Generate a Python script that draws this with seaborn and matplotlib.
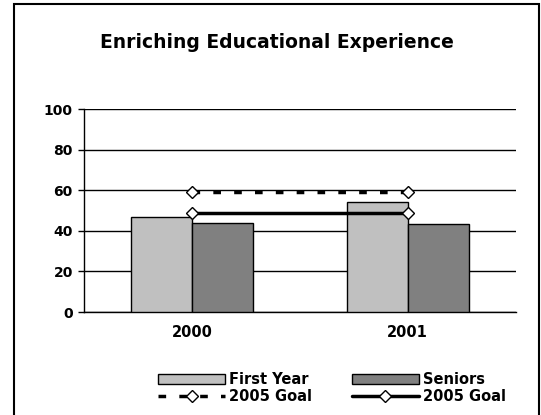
"""
Enriching Educational Experience: First Year vs Seniors with 2005 goals.
"""

import matplotlib
matplotlib.use("Agg")
import matplotlib.pyplot as plt
import pandas as pd
import seaborn as sns
from matplotlib.lines import Line2D
from matplotlib.patches import Patch, Rectangle

YEARS = ["2000", "2001"]
FIRST_YEAR = [47, 54]
SENIORS = [44, 43.5]
GOAL_FIRST_YEAR = [59, 59]
GOAL_SENIORS = [49, 49]

GROUPS = ["First Year", "Seniors"]
COLORS = {"First Year": "#C0C0C0", "Seniors": "#808080"}
DASHED = (0, (2.2, 3.8))


def main() -> None:
    df = pd.DataFrame({
        "Year": YEARS * 2,
        "Group": [GROUPS[0]] * len(YEARS) + [GROUPS[1]] * len(YEARS),
        "Value": FIRST_YEAR + SENIORS,
    })

    sns.set_style("white")
    plt.rcParams["font.family"] = ["DejaVu Sans"]
    plt.rcParams["font.weight"] = "bold"
    plt.rcParams["text.color"] = "black"
    plt.rcParams["xtick.color"] = "black"
    plt.rcParams["ytick.color"] = "black"

    fig = plt.figure(figsize=(5.41, 4.15), dpi=100)
    ax = fig.add_axes([0.156, 0.248, 0.797, 0.489])

    sns.barplot(
        data=df, x="Year", y="Value", hue="Group", order=YEARS,
        hue_order=GROUPS, palette=COLORS, width=0.566, gap=0,
        edgecolor="black", linewidth=1.0, saturation=1, legend=False,
        zorder=3, ax=ax,
    )

    xs = list(range(len(YEARS)))
    ax.plot(xs, GOAL_FIRST_YEAR, color="black", lw=2.5, linestyle=DASHED,
            marker="D", ms=6.5, mfc="white", mec="black", mew=1.0, zorder=4)
    ax.plot(xs, GOAL_SENIORS, color="black", lw=2.5, linestyle="-",
            marker="D", ms=6.5, mfc="white", mec="black", mew=1.0, zorder=4)

    ax.set_xlim(-0.5, len(YEARS) - 0.5)
    ax.set_ylim(0, 100)
    ax.set_yticks(range(0, 101, 20))
    ax.set_xticks(xs)
    ax.set_xticklabels(YEARS)
    ax.set_xticks([-0.5, 0.5, 1.5], minor=True)
    ax.tick_params(axis="x", which="major", length=0, pad=9, labelsize=10.5)
    ax.tick_params(axis="x", which="minor", direction="inout", length=7,
                   width=1.0, color="black")
    ax.tick_params(axis="y", direction="out", length=4.3, width=1.0,
                   pad=4.0, labelsize=10, color="black", left=True)
    for lbl in ax.get_xticklabels() + ax.get_yticklabels():
        lbl.set_fontweight("bold")

    ax.grid(axis="y", color="black", lw=1.0, zorder=0)
    ax.grid(axis="x", visible=False)
    ax.set_axisbelow(True)
    for side in ["top", "right"]:
        ax.spines[side].set_visible(False)
    for side in ["left", "bottom"]:
        ax.spines[side].set_color("black")
        ax.spines[side].set_linewidth(1.0)
    ax.set_xlabel("")
    ax.set_ylabel("")

    fig.text(0.512, 1 - 43 / 415, "Enriching Educational Experience",
             ha="center", va="center", fontsize=13.5, fontweight="bold")

    handles = [
        Patch(facecolor=COLORS["First Year"], edgecolor="black", lw=1.0),
        Line2D([0], [0], color="black", lw=2.5, linestyle=DASHED,
               marker="D", ms=6.5, mfc="white", mec="black", mew=1.0),
        Patch(facecolor=COLORS["Seniors"], edgecolor="black", lw=1.0),
        Line2D([0], [0], color="black", lw=2.5, marker="D", ms=6.5,
               mfc="white", mec="black", mew=1.0),
    ]
    labels = ["First Year", "2005 Goal", "Seniors", "2005 Goal"]
    fig.legend(
        handles, labels, ncol=2, loc="center left",
        bbox_to_anchor=(158 / 541, 1 - 388 / 415), frameon=False,
        borderpad=0, borderaxespad=0, handlelength=4.6, handleheight=0.7,
        handletextpad=0.3, columnspacing=2.7, labelspacing=0.1,
        numpoints=1, prop={"size": 10.5, "weight": "bold"},
    )

    fig.patches.append(Rectangle(
        (14 / 541, -0.1), (539 - 14) / 541, 1.1 - 4 / 415,
        transform=fig.transFigure, fill=False, edgecolor="black",
        lw=1.5, zorder=10,
    ))

    fig.savefig("out.png", dpi=100)
    plt.close(fig)


if __name__ == "__main__":
    main()
